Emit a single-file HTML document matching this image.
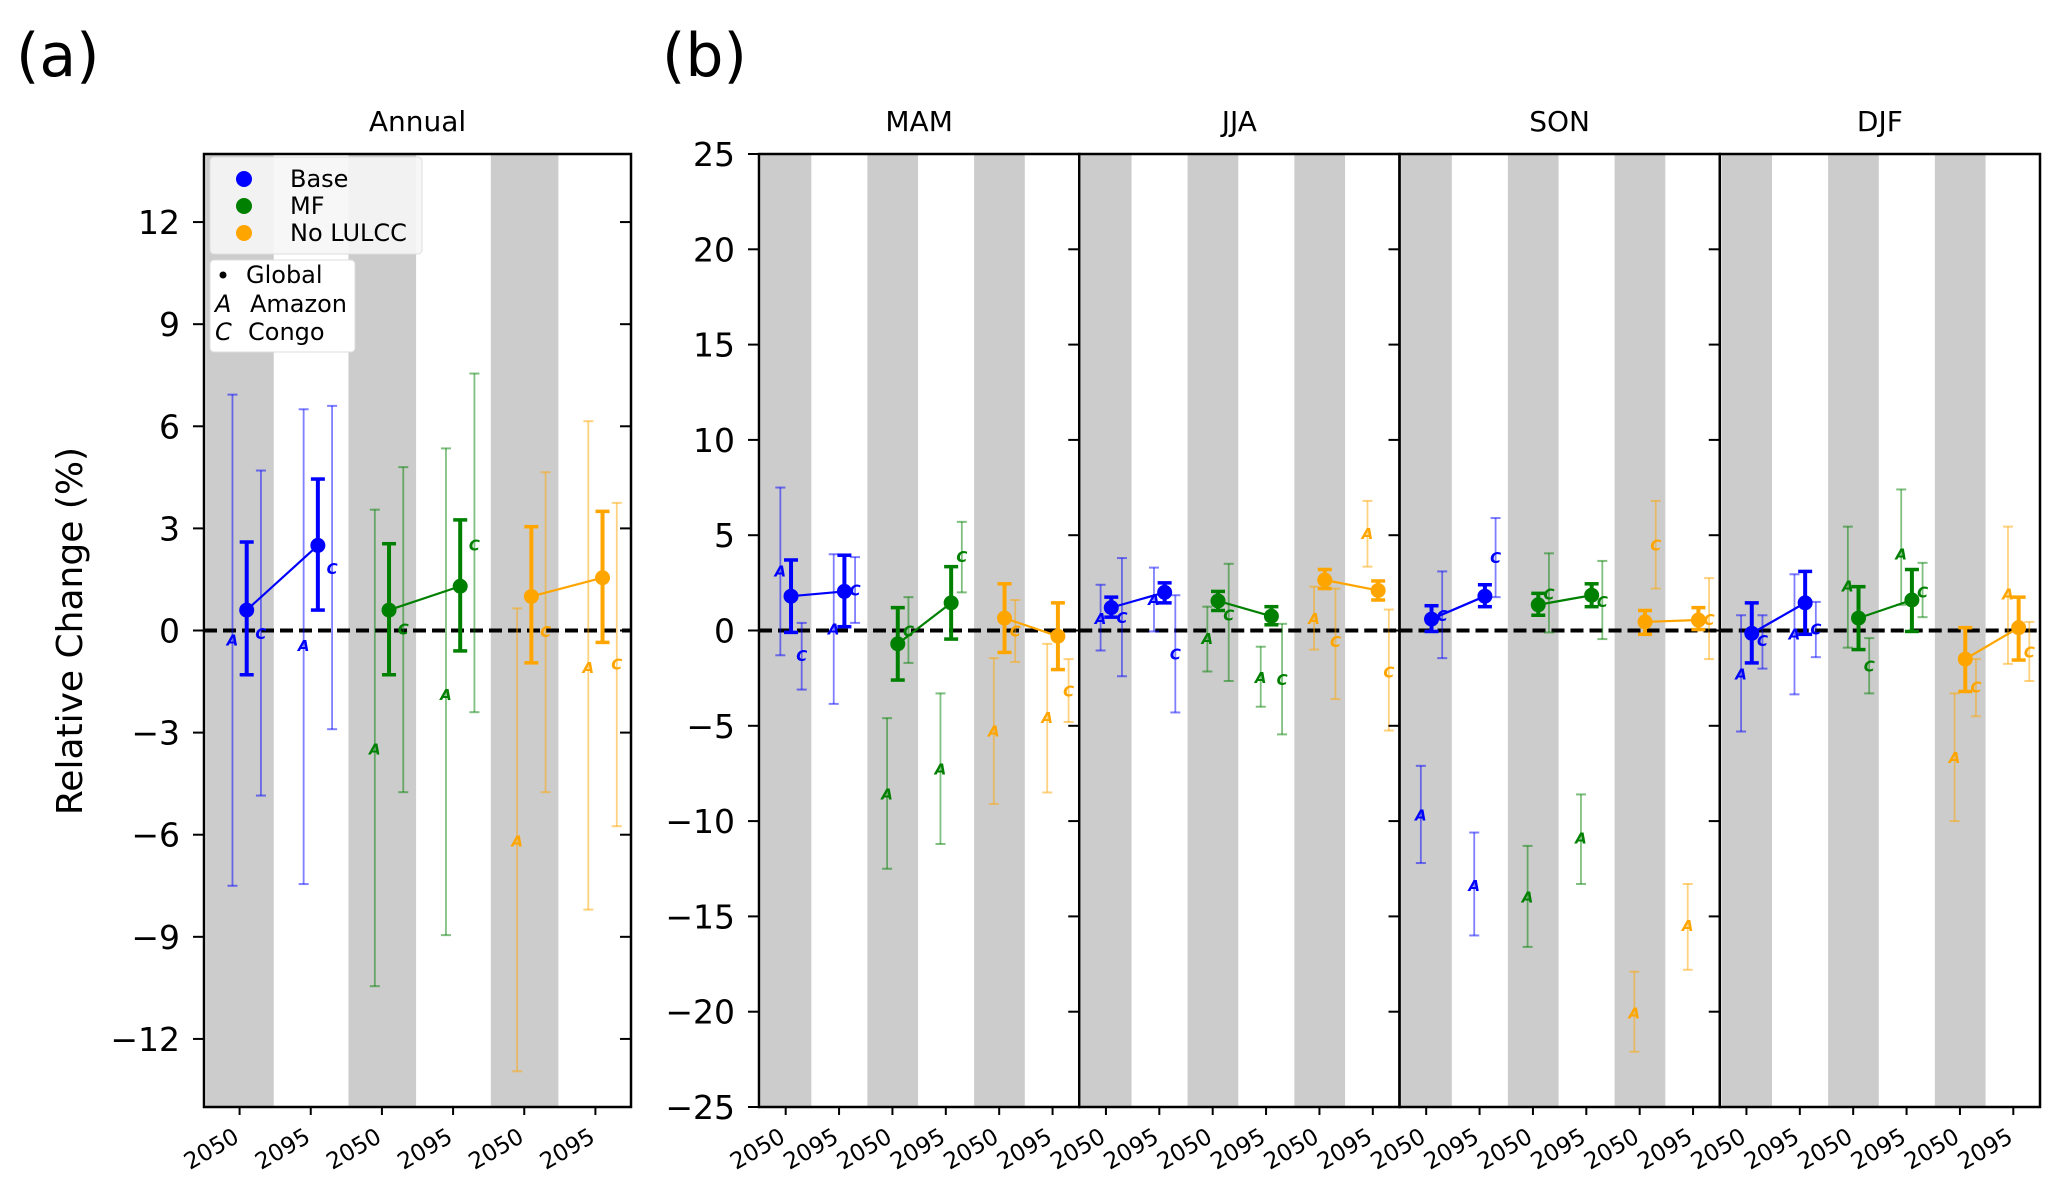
<!DOCTYPE html>
<html><head><meta charset="utf-8"><style>
html,body{margin:0;padding:0;background:#fff;}
svg{display:block;font-family:"DejaVu Sans","Liberation Sans",sans-serif;}
</style></head><body>
<svg id="chart" width="2067" height="1192" viewBox="0 0 2067 1192" xmlns="http://www.w3.org/2000/svg">
<text x="16" y="76" font-size="60">(a)</text>
<text x="662" y="76" font-size="60">(b)</text>
<text transform="translate(82,631) rotate(-90)" text-anchor="middle" font-size="36">Relative Change (%)</text>
<g id="plots"></g>
<g id="legend1">
<rect x="210" y="157" width="212" height="97" rx="4" fill="#f6f6f6" fill-opacity="0.9" stroke="#ddd"/>
<circle cx="244" cy="179" r="8" fill="#0000ff"/>
<text x="290" y="187" font-size="24">Base</text>
<circle cx="244" cy="206" r="8" fill="#008000"/>
<text x="290" y="214" font-size="24">MF</text>
<circle cx="244" cy="233" r="8" fill="#ffa500"/>
<text x="290" y="241" font-size="24">No LULCC</text>
</g>
<g id="legend2">
<rect x="210" y="260" width="145" height="92" rx="4" fill="#fff" stroke="#ddd"/>
<circle cx="223" cy="275" r="3.5" fill="#000"/>
<text x="246" y="283" font-size="24">Global</text>
<text x="215" y="312" font-size="24" font-style="italic">A</text>
<text x="250" y="312" font-size="24">Amazon</text>
<text x="215" y="340" font-size="24" font-style="italic">C</text>
<text x="248" y="340" font-size="24">Congo</text>
</g>
</svg>
<script>
const panelNames = ["Annual","MAM","JJA","SON","DJF"];
const periods = ["2050","2095","2050","2095","2050","2095"];
const scenarioNames = ["Base","MF","No LULCC"];
const scenarioColors = ["#0000ff","#008000","#ffa500"];
const annualTicks = [-12,-9,-6,-3,0,3,6,9,12];
const seasonTicks = [-25,-20,-15,-10,-5,0,5,10,15,20,25];
// order within each panel: Base2050, Base2095, MF2050, MF2095, NoLULCC2050, NoLULCC2095
const globalMean = [
 [0.6,2.5,0.6,1.3,1.0,1.55],
 [1.8,2.05,-0.7,1.45,0.65,-0.3],
 [1.2,2.0,1.55,0.75,2.65,2.1],
 [0.6,1.8,1.35,1.85,0.45,0.55],
 [-0.15,1.45,0.65,1.6,-1.5,0.15]];
const globalHi = [
 [2.6,4.45,2.55,3.25,3.05,3.5],
 [3.7,3.95,1.2,3.35,2.45,1.45],
 [1.75,2.5,2.05,1.25,3.2,2.6],
 [1.3,2.4,1.95,2.45,1.05,1.2],
 [1.45,3.1,2.3,3.2,0.15,1.75]];
const globalLo = [
 [-1.3,0.6,-1.3,-0.6,-0.95,-0.35],
 [-0.1,0.2,-2.6,-0.45,-1.15,-2.05],
 [0.7,1.45,1.05,0.3,2.2,1.6],
 [-0.05,1.25,0.8,1.25,-0.2,0.05],
 [-1.7,-0.2,-1.0,-0.05,-3.2,-1.55]];
const amazonMean = [
 [-0.3,-0.45,-3.5,-1.9,-6.2,-1.1],
 [3.1,0.05,-8.6,-7.3,-5.3,-4.6],
 [0.6,1.6,-0.45,-2.5,0.6,5.05],
 [-9.7,-13.4,-14.0,-10.9,-20.1,-15.5],
 [-2.3,-0.2,2.3,4.0,-6.7,1.9]];
const amazonHi = [
 [6.93,6.5,3.55,5.35,0.65,6.15],
 [7.5,4.0,-4.6,-3.3,-1.45,-0.7],
 [2.4,3.3,1.25,-0.85,2.3,6.8],
 [-7.1,-10.6,-11.3,-8.6,-17.9,-13.3],
 [0.8,2.95,5.45,7.4,-3.3,5.45]];
const amazonLo = [
 [-7.5,-7.45,-10.45,-8.95,-12.95,-8.2],
 [-1.3,-3.85,-12.5,-11.2,-9.1,-8.5],
 [-1.05,-0.05,-2.15,-4.0,-1.0,3.35],
 [-12.2,-16.0,-16.6,-13.3,-22.1,-17.8],
 [-5.3,-3.35,-0.9,1.35,-10.0,-1.75]];
const congoMean = [
 [-0.1,1.8,0.03,2.5,-0.05,-1.0],
 [-1.35,2.1,-0.05,3.85,-0.05,-3.2],
 [0.65,-1.25,0.8,-2.6,-0.6,-2.2],
 [0.75,3.8,1.9,1.5,4.45,0.55],
 [-0.55,0.05,-1.9,2.0,-3.0,-1.15]];
const congoHi = [
 [4.7,6.6,4.8,7.55,4.65,3.75],
 [0.4,3.85,1.75,5.7,1.6,-1.5],
 [3.8,1.85,3.5,0.35,2.2,1.1],
 [3.1,5.9,4.05,3.65,6.8,2.75],
 [0.8,1.5,-0.4,3.55,-1.5,0.45]];
const congoLo = [
 [-4.85,-2.9,-4.75,-2.4,-4.75,-5.75],
 [-3.1,0.4,-1.7,2.0,-1.65,-4.8],
 [-2.4,-4.3,-2.65,-5.45,-3.6,-5.25],
 [-1.45,1.75,-0.1,-0.45,2.2,-1.5],
 [-2.0,-1.4,-3.3,0.7,-4.5,-2.65]];

const NS="http://www.w3.org/2000/svg";
const root=document.getElementById('plots');
function mk(tag,attrs,parent,txt){const e=document.createElementNS(NS,tag);for(const k in attrs)e.setAttribute(k,attrs[k]);if(txt!==undefined)e.textContent=txt;(parent||root).appendChild(e);return e;}
const TOP=154,BOT=1107;
const geom=[{x0:204,x1:631,lim:14}];
for(let i=0;i<4;i++)geom.push({x0:759+i*320.25,x1:759+(i+1)*320.25,lim:25});

function drawBar(g,x,m,lo,hi,ys,color,thick,name){
  const w=thick?4:1.8, cap=thick?7:5, op=thick?1:0.5;
  let l=mk('line',{x1:x,x2:x,y1:ys(lo),y2:ys(hi),stroke:color,'stroke-width':w,'stroke-opacity':op},g);
  
  
  for(const v of [lo,hi]){
    let c=mk('line',{x1:x-cap,x2:x+cap,y1:ys(v),y2:ys(v),stroke:color,'stroke-width':thick?3.5:2,'stroke-opacity':op},g);
    
    
  }
}

panelNames.forEach((pn,p)=>{
  const G=geom[p];const w=G.x1-G.x0;const cw=w/6;
  const ys=v=>TOP+(G.lim-v)/(2*G.lim)*(BOT-TOP);
  const xc=j=>G.x0+(j+0.5)*cw;
  const g=mk('g',{});
  
  
  for(let j=0;j<6;j+=2){
    const r=mk('rect',{x:xc(j)-cw*0.47,y:TOP,width:cw*0.95,height:BOT-TOP,fill:'#cccccc'},g);
    
    
  }
  const t=mk('text',{x:(G.x0+G.x1)/2,y:131,'text-anchor':'middle','font-size':28},g,pn);
  
  
  const ticks=p===0?annualTicks:seasonTicks;
  ticks.forEach(v=>{
    const tk=mk('line',{x1:G.x0-11,x2:G.x0,y1:ys(v),y2:ys(v),stroke:'#000','stroke-width':2},g);
    
    
    if(p<=1){
      const lb=mk('text',{x:G.x0-24,y:ys(v)+12,'text-anchor':'end','font-size':33},g,(v<0?'\u2212':'')+Math.abs(v));
      
      
    }
    if(p===0){
      const tr=mk('line',{x1:G.x1-11,x2:G.x1,y1:ys(v),y2:ys(v),stroke:'#000','stroke-width':2},g);
      
      
    }
  });
  periods.forEach((per,j)=>{
    const tk=mk('line',{x1:xc(j),x2:xc(j),y1:BOT,y2:BOT+8,stroke:'#000','stroke-width':2},g);
    
    
    const lb=mk('text',{'text-anchor':'end','font-size':23,transform:`translate(${xc(j)+1},${BOT+34}) rotate(-30)`},g,per);
    
    
  });
  const z=mk('line',{x1:G.x0,x2:G.x1,y1:ys(0),y2:ys(0),stroke:'#000','stroke-width':4,'stroke-dasharray':'13,6'},g);
  
  
  for(let j=0;j<6;j++){
    const col=scenarioColors[Math.floor(j/2)];
    const xa=xc(j)-0.1*cw, xcg=xc(j)+0.3*cw;
    drawBar(g,xa,amazonMean[p][j],amazonLo[p][j],amazonHi[p][j],ys,col,false,'amazon');
    drawBar(g,xcg,congoMean[p][j],congoLo[p][j],congoHi[p][j],ys,col,false,'congo');
    const ta=mk('text',{x:xa,y:ys(amazonMean[p][j])+5,'text-anchor':'middle','font-size':15,'font-style':'italic','font-weight':'bold',fill:col},g,'A');
    
    
    const tc=mk('text',{x:xcg,y:ys(congoMean[p][j])+5,'text-anchor':'middle','font-size':15,'font-style':'italic','font-weight':'bold',fill:col},g,'C');
    
    
  }
  for(let s=0;s<3;s++){
    const col=scenarioColors[s];
    const j0=2*s,j1=2*s+1;
    const ln=mk('line',{x1:xc(j0)+0.1*cw,y1:ys(globalMean[p][j0]),x2:xc(j1)+0.1*cw,y2:ys(globalMean[p][j1]),stroke:col,'stroke-width':2.2},g);
    
    
    for(const j of [j0,j1]){
      const xg=xc(j)+0.1*cw;
      drawBar(g,xg,globalMean[p][j],globalLo[p][j],globalHi[p][j],ys,col,true,'global');
      const c=mk('circle',{cx:xg,cy:ys(globalMean[p][j]),r:7.5,fill:col},g);
      
      
    }
  }
  const fr=mk('rect',{x:G.x0,y:TOP,width:w,height:BOT-TOP,fill:'none',stroke:'#000','stroke-width':2.5},g);
  
  
});
</script>
</body></html>
